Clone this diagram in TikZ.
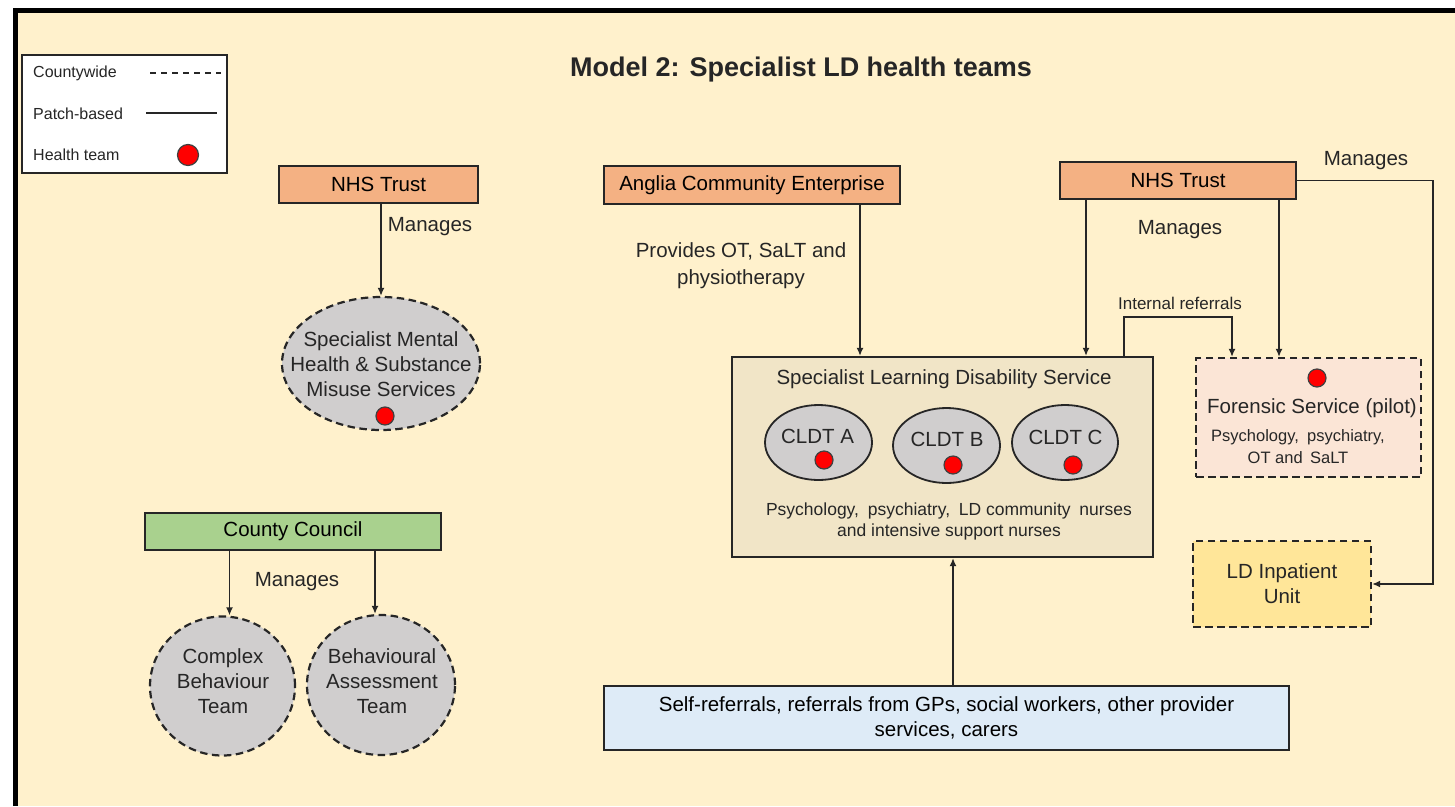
\documentclass[tikz,border=0pt]{standalone}
\usepackage{fontspec}
\setmainfont{Liberation Sans}
\usetikzlibrary{arrows.meta,shapes.geometric,calc}
\definecolor{cream}{HTML}{FFF1CC}
\definecolor{salmon}{HTML}{F4B183}
\definecolor{ccgreen}{HTML}{A9D18E}
\definecolor{teamgray}{HTML}{D0CECE}
\definecolor{sldsfill}{HTML}{F1E5C7}
\definecolor{forfill}{HTML}{FBE5D6}
\definecolor{inpfill}{HTML}{FFE699}
\definecolor{selffill}{HTML}{DEEBF7}
\definecolor{ink}{HTML}{262626}
\newcommand\myfs[2]{\fontsize{#1}{#2}\selectfont}
\begin{document}
\begin{tikzpicture}[x=1pt,y=-1pt,
  box/.style={draw=ink, line width=2.2pt, inner sep=0pt, align=center, font=\myfs{20.5}{25}},
  dashbox/.style={draw=ink, line width=2.2pt, dash pattern=on 7.5pt off 4.5pt, inner sep=0pt},
  arr/.style={draw=ink, line width=1.8pt, -{Latex[length=8pt,width=7pt]}},
  lab/.style={inner sep=0pt, align=center, font=\myfs{20.5}{25}, text=ink},
  hdot/.style={circle, fill=red, draw=black!75, line width=1.2pt, minimum size=18pt, inner sep=0pt},
  ]
\useasboundingbox (0,0) rectangle (1455,806);
% background and frame
\fill[white] (0,0) rectangle (1455,806);
\fill[cream] (15.5,10.5) rectangle (1455,806);
\draw[black, line width=5pt] (15.5,806) -- (15.5,10.5) -- (1455,10.5);

% legend
\node[draw=ink, line width=2pt, fill=white, minimum width=205pt, minimum height=118pt, inner sep=0pt] (leg) at (124.5,114) {};
\node[anchor=west, inner sep=0pt, font=\myfs{16}{18}, text=ink] (lg1) at (33,73) {Countywide};
\node[anchor=west, inner sep=0pt, font=\myfs{16}{18}, text=ink] (lg2) at (33,114) {Patch-based};
\node[anchor=west, inner sep=0pt, font=\myfs{16}{18}, text=ink] (lg3) at (33,155) {Health team};
\draw[ink, line width=2pt, dash pattern=on 6pt off 5pt] (150,73) -- (221,73);
\draw[ink, line width=2pt] (146,113) -- (217,113);
\node[hdot, minimum size=21pt] (lgdot) at (188,155) {};

% title
\node[inner sep=0pt, font=\bfseries\myfs{27}{30}, text=ink] (title) at (801,70) {Model 2: Specialist LD health teams};

% left column
\node[box, fill=salmon, minimum width=199pt, minimum height=37pt] (nhsL) at (378.5,184.5) {NHS Trust};
\node[dashbox, ellipse, fill=teamgray, minimum width=198pt, minimum height=133pt] (smh) at (381,363.5) {};
\node[lab] (smhT) at (381,364) {Specialist Mental\\Health \& Substance\\Misuse Services};
\node[hdot] (smhD) at (385,416) {};
\draw[arr] (smh.north |- nhsL.south) -- (smh.north);
\node[lab] (manL) at (430,227) {Manages};

\node[box, fill=ccgreen, minimum width=296pt, minimum height=37pt] (cc) at (293,531.5) {County Council};
\node[dashbox, ellipse, fill=teamgray, minimum width=145pt, minimum height=139pt] (cbt) at (222.5,686) {};
\node[dashbox, ellipse, fill=teamgray, minimum width=148pt, minimum height=140pt] (bat) at (381,685) {};
\node[lab] (cbtT) at (223,681) {Complex\\Behaviour\\Team};
\node[lab] (batT) at (382,681) {Behavioural\\Assessment\\Team};
\draw[arr] ([xshift=7pt]cbt.north |- cc.south) -- ([xshift=7pt]cbt.north);
\draw[arr] ([xshift=-6pt]bat.north |- cc.south) -- ([xshift=-6pt]bat.north);
\node[lab] (manC) at (297,582) {Manages};

% centre
\node[box, fill=salmon, minimum width=296pt, minimum height=38pt] (ace) at (752,185) {Anglia Community Enterprise};
\node[lab, font=\myfs{20.5}{27}] (prov) at (741,265.5) {Provides OT, SaLT and\\physiotherapy};

\node[box, fill=sldsfill, minimum width=421pt, minimum height=200pt] (slds) at (942.5,457) {};
\node[lab] (sldsT) at (944,379) {Specialist Learning Disability Service};
\node[draw=ink, line width=1.8pt, ellipse, fill=teamgray, minimum width=107pt, minimum height=75pt, inner sep=0pt] (cA) at (818.5,442.5) {};
\node[draw=ink, line width=1.8pt, ellipse, fill=teamgray, minimum width=107pt, minimum height=75pt, inner sep=0pt] (cB) at (946.5,445.5) {};
\node[draw=ink, line width=1.8pt, ellipse, fill=teamgray, minimum width=106pt, minimum height=75pt, inner sep=0pt] (cC) at (1065,442.5) {};
\node[lab] (cAT) at (817.5,436) {CLDT A};
\node[lab] (cBT) at (947,439) {CLDT B};
\node[lab] (cCT) at (1065.5,437) {CLDT C};
\node[hdot] (cAD) at (824,460) {};
\node[hdot] (cBD) at (953,465) {};
\node[hdot] (cCD) at (1073,465) {};
\node[lab, font=\myfs{17.5}{21}] (sldsS) at (949,521) {Psychology,\enspace psychiatry,\enspace LD community\enspace nurses\\and intensive support nurses};
\draw[arr] ([xshift=108pt]ace.south) -- ([xshift=108pt]ace.south |- slds.north);

\node[box, fill=selffill, minimum width=685pt, minimum height=64pt] (self) at (946.5,718) {Self-referrals, referrals from GPs, social workers, other provider\\services, carers};
\draw[arr] ([xshift=6.5pt]self.north) -- ([xshift=6.5pt]self.north |- slds.south);

% right
\node[box, fill=salmon, minimum width=236pt, minimum height=37pt] (nhsR) at (1178,180.5) {NHS Trust};
\node[lab] (manR) at (1180,230) {Manages};
\node[lab] (manR2) at (1366,161) {Manages};
\node[dashbox, fill=forfill, minimum width=225pt, minimum height=119pt] (for) at (1308.5,417.5) {};
\node[hdot] (forD) at (1317,378) {};
\node[lab] (forT) at (1312,408) {Forensic Service (pilot)};
\node[lab, font=\myfs{16.5}{22}] (forS) at (1298,447) {Psychology,\enspace psychiatry,\\OT and\, SaLT};
\node[dashbox, fill=inpfill, minimum width=178pt, minimum height=86pt, align=center, font=\myfs{20.5}{25}, text=ink] (inp) at (1282,584) {LD Inpatient\\Unit};

\draw[arr] ([xshift=-92pt]nhsR.south) -- ([xshift=-92pt]nhsR.south |- slds.north);
\draw[arr] ([xshift=101pt]nhsR.south) -- ([xshift=101pt]nhsR.south |- for.north);
\draw[arr] (nhsR.east) -- ++(136,0) |- (inp.east);
\draw[arr] ([xshift=181.5pt]slds.north) -- ++(0,-39) -| ([xshift=-76.5pt]for.north);
\node[lab, font=\myfs{17}{20}] (intr) at (1180,303) {Internal referrals};
\end{tikzpicture}
\end{document}
